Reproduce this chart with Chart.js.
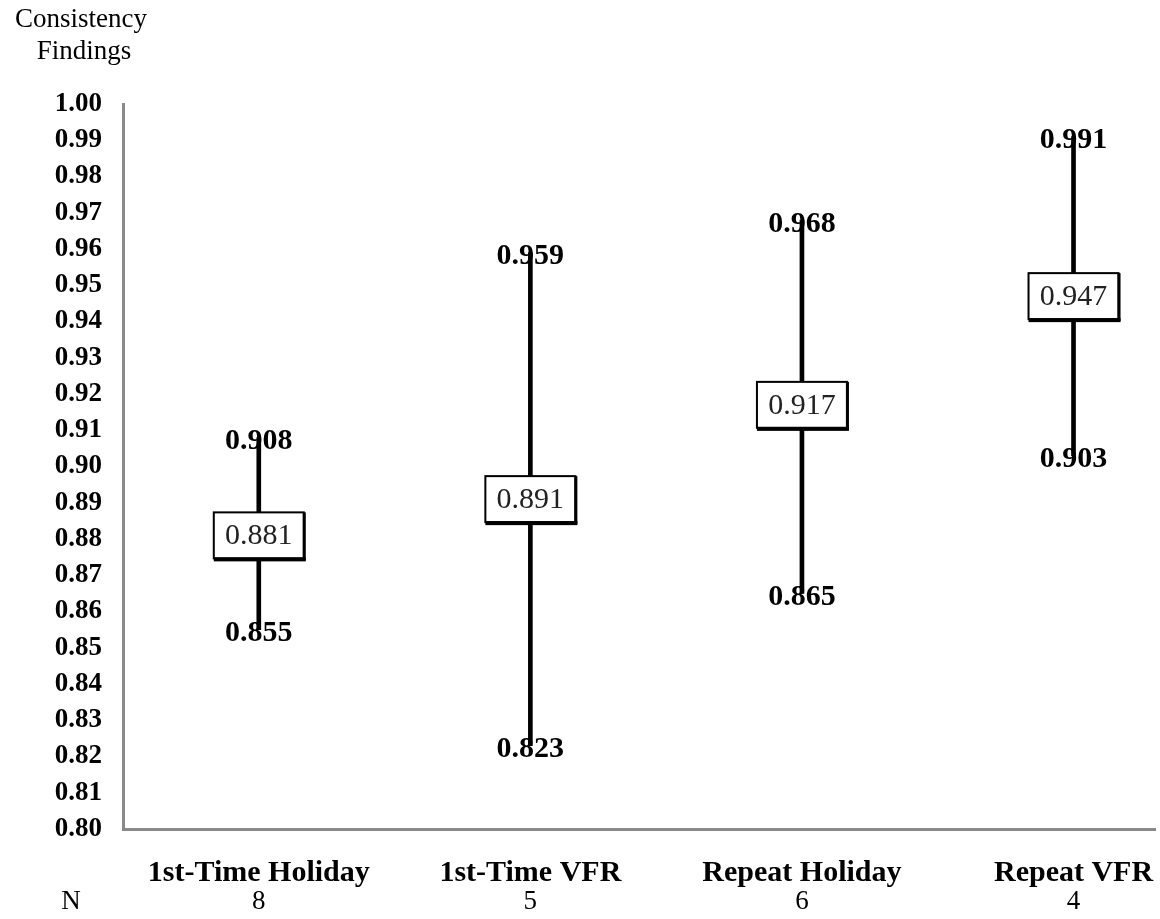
<!DOCTYPE html>
<html>
<head>
<meta charset="utf-8">
<script src="https://cdn.jsdelivr.net/npm/chart.js@4.4.1/dist/chart.umd.min.js"></script>
<style>
  body { margin: 0; background: #fff; }
  #wrap { width: 1160px; height: 919px; }
</style>
</head>
<body>
<div id="wrap"><canvas id="consistencyChart" width="1160" height="919"></canvas></div>
<script>
// groups of travellers
const groups = ['1st-Time Holiday', '1st-Time VFR', 'Repeat Holiday', 'Repeat VFR'];
const lows = [0.855, 0.823, 0.865, 0.903];
const highs = [0.908, 0.959, 0.968, 0.991];
const means = [0.881, 0.891, 0.917, 0.947];
const counts = [8, 5, 6, 4];

const serif = '"Liberation Serif", "Times New Roman", serif';

// draws the low/high labels, the boxed means and the extra texts
const drawExtras = {
    id: 'drawExtras',
    afterDatasetsDraw(chart) {
        const ctx = chart.ctx;
        const x = chart.scales.x;
        const y = chart.scales.y;
        ctx.save();
        ctx.textAlign = 'center';
        ctx.textBaseline = 'middle';
        ctx.fillStyle = '#000';

        // ends of the ranges
        ctx.font = 'bold 30px ' + serif;
        groups.forEach((g, i) => {
            const px = x.getPixelForValue(i);
            ctx.fillText(highs[i].toFixed(3), px, y.getPixelForValue(highs[i]) + 4);
            ctx.fillText(lows[i].toFixed(3), px, y.getPixelForValue(lows[i]) + 4);
        });

        // boxed means
        const meta = chart.getDatasetMeta(1);
        meta.data.forEach((pt, i) => {
            const w = 90, h = 46;
            const left = pt.x - w / 2;
            const top = pt.y - h / 2;
            ctx.fillStyle = '#fff';
            ctx.fillRect(left, top, w, h);
            ctx.strokeStyle = '#000';
            ctx.lineWidth = 2;
            ctx.strokeRect(left, top, w, h);
            ctx.fillStyle = '#000';
            ctx.fillRect(left, top + h - 1, w + 2, 4);
            ctx.fillRect(left + w - 1, top, 3, h + 2);
            ctx.fillStyle = '#222';
            ctx.font = '30px ' + serif;
            ctx.fillText(means[i].toFixed(3), pt.x, pt.y + 1);
        });

        // axis title
        ctx.fillStyle = '#000';
        ctx.font = '27px ' + serif;
        ctx.fillText('Consistency', 81, 20);
        ctx.fillText('Findings', 84, 52);

        // sample sizes
        ctx.fillText('N', 71, 902);
        groups.forEach((g, i) => {
            ctx.fillText(String(counts[i]), x.getPixelForValue(i), 902);
        });
        ctx.restore();
    }
};

new Chart(document.getElementById('consistencyChart'), {
    type: 'bar',
    data: {
        datasets: [{
            type: 'bar',
            data: groups.map((g, i) => ({ x: i, y: [lows[i], highs[i]] })),
            backgroundColor: '#000',
            barThickness: 4
        }, {
            type: 'scatter',
            data: means.map((m, i) => ({ x: i, y: m })),
            pointRadius: 0,
            showLine: false
        }]
    },
    plugins: [drawExtras],
    options: {
        responsive: false,
        animation: false,
        layout: { padding: { top: 104, right: 5, left: 0, bottom: 0 } },
        plugins: {
            legend: { display: false },
            tooltip: { enabled: false }
        },
        scales: {
            x: {
                type: 'linear',
                offset: false,
                min: -0.5,
                max: 3.3,
                afterBuildTicks: function(axis) {
                    axis.ticks = groups.map((g, i) => ({ value: i }));
                },
                afterFit: function(axis) {
                    axis.height = 90;
                    axis.paddingLeft = 0;
                    axis.paddingRight = 0;
                },
                grid: { display: false },
                border: { display: true, color: '#8a8a8a', width: 3 },
                ticks: {
                    autoSkip: false,
                    maxRotation: 0,
                    padding: 18,
                    color: '#000',
                    font: { family: serif, size: 30, weight: 'bold' },
                    callback: function(value) { return groups[value]; }
                }
            },
            y: {
                min: 0.8,
                max: 1.0,
                afterFit: function(axis) { axis.width = 123; },
                grid: { display: false },
                border: { display: true, color: '#8a8a8a', width: 3 },
                ticks: {
                    stepSize: 0.01,
                    padding: 13,
                    color: '#000',
                    font: { family: serif, size: 27, weight: 'bold' },
                    callback: function(value) { return value.toFixed(2); }
                }
            }
        }
    }
});
</script>
</body>
</html>
